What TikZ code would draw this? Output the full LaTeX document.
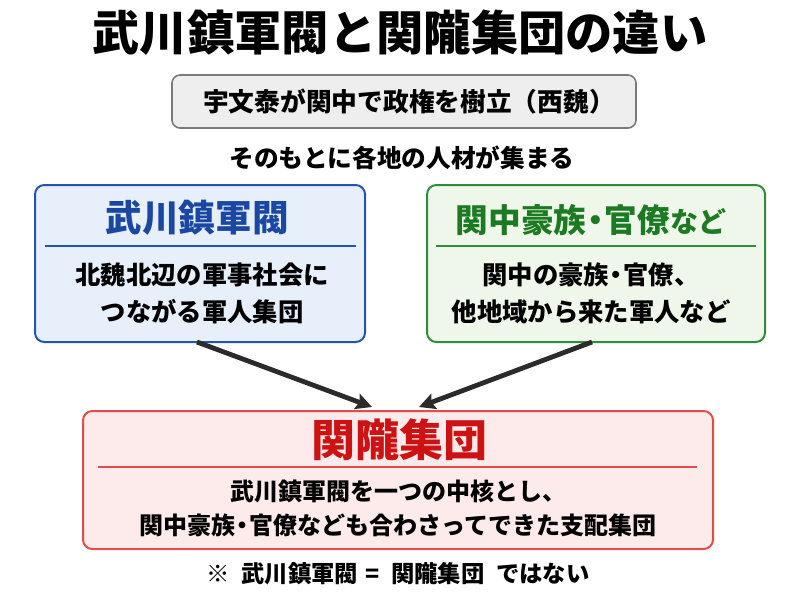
\documentclass[tikz,border=0pt]{standalone}
\usepackage{fontspec}
\setmainfont{Noto Sans CJK JP}
\usepackage{tikz}
\usetikzlibrary{arrows.meta,positioning,calc}
\usepackage{xcolor}
\definecolor{bluefg}{HTML}{1A47A3}
\definecolor{blueln}{HTML}{2455AE}
\definecolor{bluebg}{HTML}{E7EFFB}
\definecolor{greenfg}{HTML}{1C7A22}
\definecolor{greenln}{HTML}{2F8D3B}
\definecolor{greenbg}{HTML}{EEF7EA}
\definecolor{redfg}{HTML}{CC1212}
\definecolor{redln}{HTML}{E24C4C}
\definecolor{redbg}{HTML}{FDEAEA}
\definecolor{grayln}{HTML}{7A7A7A}
\definecolor{graybg}{HTML}{EEEEEE}
\definecolor{arrowc}{HTML}{2B2B2B}
\newcommand{\dotsep}{\kern-0.22em・\kern-0.22em}

\begin{document}
\begin{tikzpicture}[x=0.75pt, y=-0.75pt, every node/.style={inner sep=0pt, text=black}]
\tikzset{
  panel/.style={draw, rounded corners=7pt, line width=1.5pt, minimum height=117.75pt},
  body/.style={font=\fontsize{19}{28}\selectfont\bfseries, align=center},
  flow/.style={draw=arrowc, line width=3.6pt, -{Stealth[length=12pt,width=12pt,inset=2pt]}}
}
\useasboundingbox[fill=white] (0,0) rectangle (800,600);
% title
\node[font=\fontsize{35.5}{40}\selectfont\bfseries] (title) at (400,33) {武川鎮軍閥と関隴集団の違い};
% top box and remark
\node[draw=grayln, fill=graybg, rounded corners=6pt, line width=1.2pt,
      minimum width=348pt, minimum height=39.75pt] (ws) at (404,101.5) {};
\node[font=\fontsize{19.3}{24}\selectfont\bfseries] (wstext) at (409,102) {宇文泰が関中で政権を樹立（西魏）};
\node[font=\fontsize{18.5}{24}\selectfont\bfseries] (gather) at (402,158) {そのもとに各地の人材が集まる};
% left panel
\node[panel, draw=blueln, fill=bluebg, minimum width=247.5pt] (wuchuan) at (200,263.5) {};
\node[font=\fontsize{27.5}{32}\selectfont\bfseries, text=bluefg] (wuchuanT) at (197,218) {武川鎮軍閥};
\draw[blueln, line width=1.2pt] (45,246) -- (356,246);
\node[body] (wuchuanB) at (202,293.5) {北魏北辺の軍事社会に\\つながる軍人集団};
% right panel
\node[panel, draw=greenln, fill=greenbg, minimum width=253.5pt] (guanzhong) at (596,263.5) {};
\node[font=\bfseries, text=greenfg] (guanzhongT) at (591,220)
  {{\fontsize{24.5}{30}\selectfont 関中豪族\dotsep 官僚}{\fontsize{21}{30}\selectfont など}};
\draw[greenln, line width=1.2pt] (436,246) -- (756,246);
\node[body] (guanzhongB) at (591,293.5) {関中の豪族\dotsep 官僚、\\他地域から来た軍人など};
% bottom panel
\node[panel, draw=redln, fill=redbg, minimum width=472.5pt, minimum height=103.5pt] (guanlong) at (398,480) {};
\node[font=\fontsize{33}{38}\selectfont\bfseries, text=redfg] (guanlongT) at (399,440) {関隴集団};
\draw[redln, line width=1.2pt] (98,467) -- (697,467);
\node[font=\fontsize{18}{25}\selectfont\bfseries, align=center] (guanlongB) at (398,508.5)
  {武川鎮軍閥を一つの中核とし、\\関中豪族\dotsep 官僚なども合わさってできた支配集団};
% arrows
\coordinate (fromL) at (197,342);
\coordinate (toL) at (372,407);
\coordinate (fromR) at (592,342);
\coordinate (toR) at (419,407);
\draw[flow] (fromL) -- (toL);
\draw[flow] (fromR) -- (toR);
% note
\node[font=\fontsize{17.5}{20}\selectfont\bfseries] (note) at (398,574)
  {※\hspace{0.5em}武川鎮軍閥\hspace{0.3em}=\hspace{0.5em}関隴集団\hspace{0.5em}ではない};
\end{tikzpicture}
\end{document}
